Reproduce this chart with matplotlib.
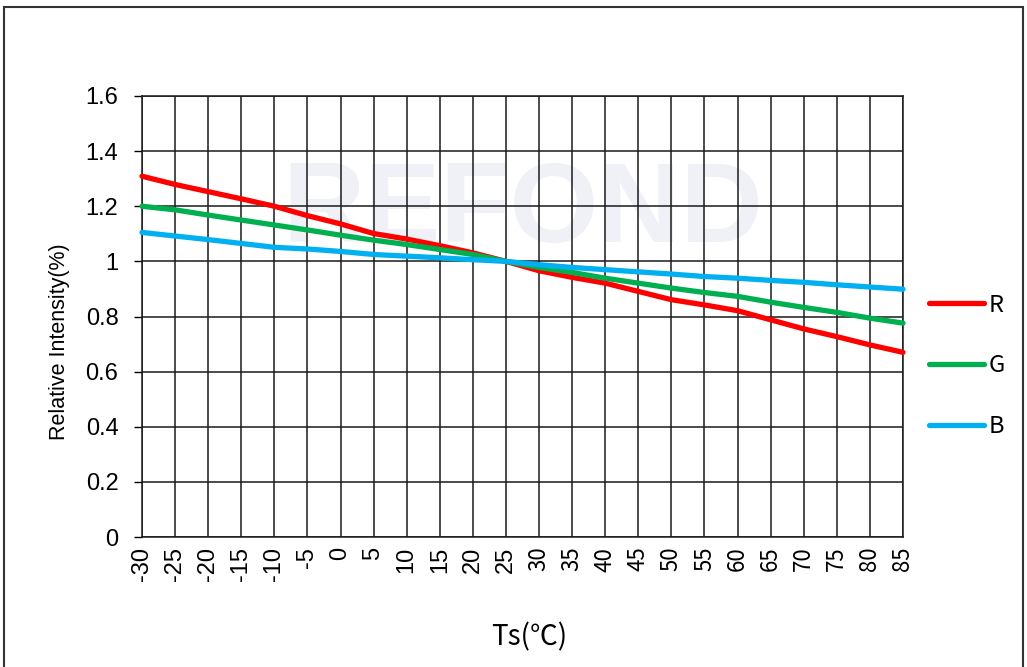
import matplotlib
matplotlib.use("Agg")
import matplotlib.pyplot as plt
from matplotlib.patches import Rectangle

temps = [-30, -25, -20, -15, -10, -5, 0, 5, 10, 15, 20, 25, 30, 35, 40, 45, 50, 55, 60, 65, 70, 75, 80, 85]
red = [1.309, 1.279, 1.253, 1.227, 1.200, 1.166, 1.136, 1.101, 1.081, 1.057, 1.031, 1.000,
       0.966, 0.942, 0.921, 0.891, 0.861, 0.842, 0.821, 0.788, 0.755, 0.727, 0.697, 0.670]
green = [1.200, 1.187, 1.168, 1.150, 1.132, 1.114, 1.095, 1.077, 1.061, 1.043, 1.025, 1.000,
         0.978, 0.960, 0.939, 0.921, 0.903, 0.887, 0.873, 0.852, 0.833, 0.815, 0.794, 0.776]
blue = [1.105, 1.092, 1.079, 1.065, 1.051, 1.045, 1.036, 1.025, 1.019, 1.013, 1.006, 1.000,
        0.988, 0.978, 0.970, 0.962, 0.954, 0.945, 0.939, 0.931, 0.924, 0.915, 0.907, 0.899]
series_names = ["R", "G", "B"]
y_ticks = [0, 0.2, 0.4, 0.6, 0.8, 1.0, 1.2, 1.4, 1.6]
y_tick_labels = ["0", "0.2", "0.4", "0.6", "0.8", "1", "1.2", "1.4", "1.6"]

W, H = 1027, 667
fig = plt.figure(figsize=(W / 100, H / 100), dpi=100)
ax = fig.add_axes([142 / W, 1 - 537 / H, (903 - 142) / W, (537 - 96) / H])

# watermark
ax.text(0.5, 0.735, "REFOND", transform=ax.transAxes, ha="center", va="center",
        fontsize=82, fontweight="bold", family="Liberation Sans", color="#eff1f7", zorder=0)

ax.set_xlim(temps[0], temps[-1])
ax.set_ylim(0, 1.6)
ax.set_xticks(temps)
ax.set_yticks(y_ticks)
ax.set_yticklabels(y_tick_labels, family="Liberation Sans", fontsize=17)
ax.set_xticklabels([str(t) for t in temps], rotation=90, fontsize=17, family="Liberation Sans")
for i, lab in enumerate(ax.get_xticklabels()):
    if temps[i] >= 30:
        lab.set_family(["Noto Sans CJK SC", "DejaVu Sans"])
        lab.set_fontsize(16)
ax.grid(True, color="#1a1a1a", linewidth=1.1, zorder=1)
ax.set_axisbelow(True)
ax.tick_params(axis="x", length=0, pad=7)
ax.tick_params(axis="y", length=6, width=1.0, pad=11, direction="out")
for s in ax.spines.values():
    s.set_color("#1a1a1a")
    s.set_linewidth(1.1)

colors = ["#FF0000", "#00B050", "#00B0F0"]
handles = []
for vals, c, n in zip([red, green, blue], colors, series_names):
    h, = ax.plot(temps, vals, color=c, linewidth=3.8, solid_capstyle="round", label=n, zorder=3, clip_on=False)
    handles.append(h)

ax.set_ylabel("Relative Intensity(%)", fontsize=15.5, family="Liberation Sans")
ax.yaxis.set_label_coords(-0.094, 0.442)
fig.text(529 / W, 1 - 637 / H, "Ts(℃)", ha="center", va="center", fontsize=20,
         family=["Noto Sans CJK SC", "DejaVu Sans"])

leg = fig.legend(handles=handles, labels=series_names, loc="center left",
                 bbox_to_anchor=(908 / W, 1 - 366 / H), frameon=False,
                 prop={"family": ["Noto Sans CJK SC", "DejaVu Sans"], "size": 17},
                 handlelength=2.3, handletextpad=0.2, labelspacing=1.6)

fig.patches.append(Rectangle((4 / W, -0.02), (1023 - 4) / W, 1.02 - 7 / H,
                             transform=fig.transFigure, fill=False, edgecolor="#333333",
                             linewidth=1.5))

fig.savefig("out.png", dpi=100)
